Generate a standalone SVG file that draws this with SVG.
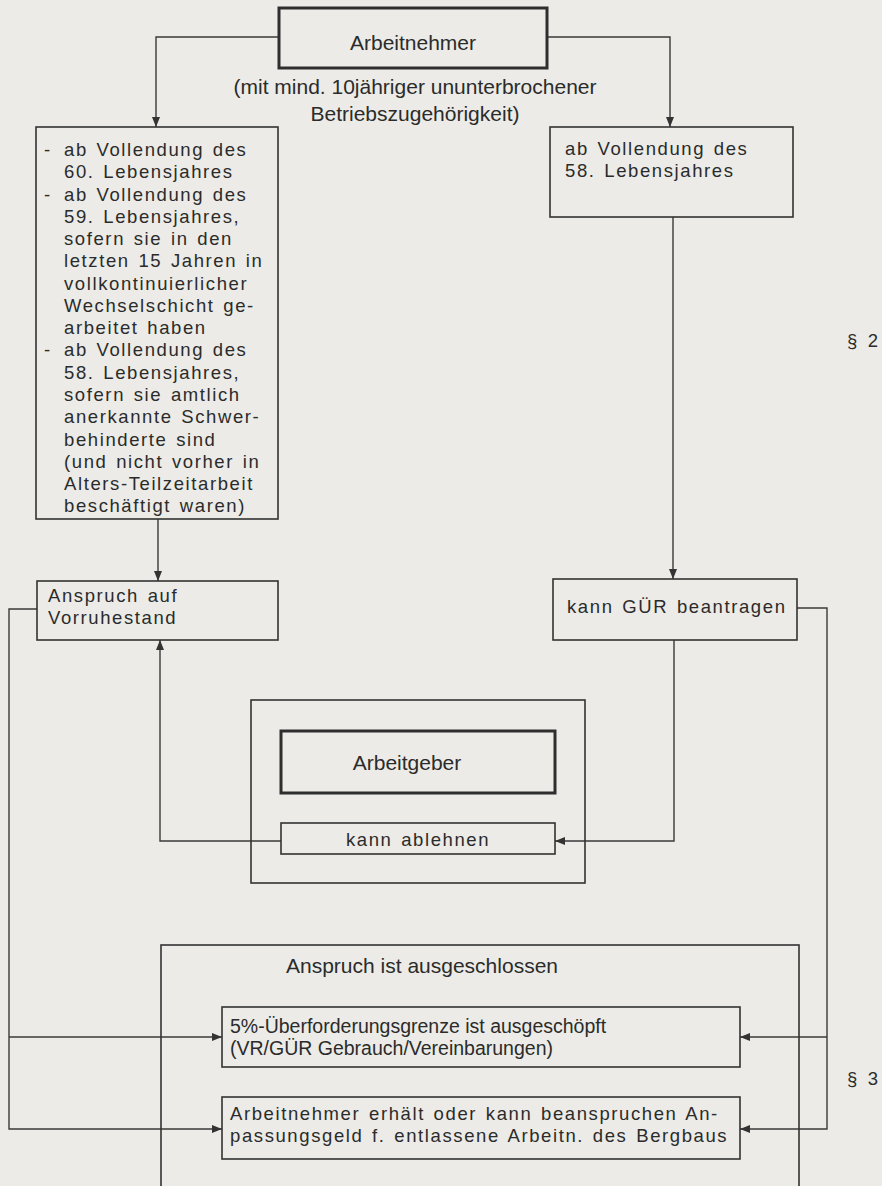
<svg xmlns="http://www.w3.org/2000/svg" width="882" height="1186" viewBox="0 0 882 1186">
  <style>
    .paper { fill: #ecebe7; }
    .box { fill: none; stroke: #333; stroke-width: 1.6; }
    .heavy { fill: none; stroke: #2e2e2e; stroke-width: 3; }
    .wire { fill: none; stroke: #3a3a3a; stroke-width: 1.4; }
    .head { font-family: "Liberation Sans", Arial, sans-serif; font-size: 21px; fill: #2b2b2b; }
    .body { font-family: "Liberation Sans", Arial, sans-serif; font-size: 18.5px; letter-spacing: 1.6px; word-spacing: 2px; fill: #2b2b2b; }
    .note { font-family: "Liberation Sans", Arial, sans-serif; font-size: 19.5px; fill: #2b2b2b; }
    .mid { text-anchor: middle; }
  </style>
  <defs>
    <marker id="arrow" markerUnits="userSpaceOnUse" markerWidth="10" markerHeight="8" refX="10" refY="4" orient="auto">
      <path d="M0,0 L10,4 L0,8 Z" fill="#333"/>
    </marker>
  </defs>

  <rect class="paper" x="0" y="0" width="882" height="1186"/>

  <!-- connectors -->
  <g id="connectors">
    <path class="wire" d="M279,37 H156 V127" marker-end="url(#arrow)"/>
    <path class="wire" d="M547,37 H670 V127" marker-end="url(#arrow)"/>
    <path class="wire" d="M158,519 V581" marker-end="url(#arrow)"/>
    <path class="wire" d="M673,217 V579" marker-end="url(#arrow)"/>
    <path class="wire" d="M37,609 H9 V1129 H222" marker-end="url(#arrow)"/>
    <path class="wire" d="M9,1037 H222" marker-end="url(#arrow)"/>
    <path class="wire" d="M797,608 H827 V1129 H740" marker-end="url(#arrow)"/>
    <path class="wire" d="M827,1037 H740" marker-end="url(#arrow)"/>
    <path class="wire" d="M674,640 V841 H555" marker-end="url(#arrow)"/>
    <path class="wire" d="M281,841 H160 V640" marker-end="url(#arrow)"/>
  </g>

  <!-- employee -->
  <g id="arbeitnehmer">
    <rect class="heavy" x="279" y="8" width="268" height="60"/>
    <text class="head mid" x="413" y="50">Arbeitnehmer</text>
    <text class="head mid" x="415" y="94">(mit mind. 10jähriger ununterbrochener</text>
    <text class="head mid" x="415" y="121">Betriebszugehörigkeit)</text>
  </g>

  <!-- conditions, left column -->
  <g id="bedingungen-vorruhestand">
    <rect class="box" x="36" y="127" width="242" height="392"/>
    <g class="body">
      <text x="44" y="156">-</text>
      <text x="64" y="156">ab Vollendung des</text>
      <text x="64" y="178.3">60. Lebensjahres</text>
      <text x="44" y="200.5">-</text>
      <text x="64" y="200.5">ab Vollendung des</text>
      <text x="64" y="222.8">59. Lebensjahres,</text>
      <text x="64" y="245.1">sofern sie in den</text>
      <text x="64" y="267.4">letzten 15 Jahren in</text>
      <text x="64" y="289.6">vollkontinuierlicher</text>
      <text x="64" y="311.9">Wechselschicht ge-</text>
      <text x="64" y="334.2">arbeitet haben</text>
      <text x="44" y="356.4">-</text>
      <text x="64" y="356.4">ab Vollendung des</text>
      <text x="64" y="378.7">58. Lebensjahres,</text>
      <text x="64" y="401">sofern sie amtlich</text>
      <text x="64" y="423.3">anerkannte Schwer-</text>
      <text x="64" y="445.5">behinderte sind</text>
      <text x="64" y="467.8">(und nicht vorher in</text>
      <text x="64" y="490.1">Alters-Teilzeitarbeit</text>
      <text x="64" y="512.3">beschäftigt waren)</text>
    </g>
  </g>

  <!-- condition, right column -->
  <g id="bedingung-gur">
    <rect class="box" x="550" y="127" width="243" height="90"/>
    <text class="body" x="565" y="155">ab Vollendung des</text>
    <text class="body" x="565" y="177">58. Lebensjahres</text>
  </g>

  <g id="paragraph-2">
    <text class="body" x="847" y="347">§ 2</text>
  </g>

  <g id="vorruhestand">
    <rect class="box" x="37" y="581" width="241" height="59"/>
    <text class="body" x="48" y="602">Anspruch auf</text>
    <text class="body" x="48" y="624">Vorruhestand</text>
  </g>

  <g id="gur">
    <rect class="box" x="553" y="579" width="244" height="61"/>
    <text class="body" x="567" y="613">kann GÜR beantragen</text>
  </g>

  <!-- employer -->
  <g id="arbeitgeber">
    <rect class="box" x="251" y="700" width="334" height="183"/>
    <rect class="heavy" x="281" y="731" width="274" height="62"/>
    <text class="head mid" x="407" y="770">Arbeitgeber</text>
  </g>

  <g id="ablehnung">
    <rect class="box" x="281" y="823" width="274" height="31"/>
    <text class="body mid" x="418" y="846">kann ablehnen</text>
  </g>

  <!-- exclusion -->
  <g id="ausschluss">
    <rect class="box" x="161" y="945" width="638" height="260"/>
    <text class="head mid" x="422" y="973">Anspruch ist ausgeschlossen</text>
  </g>

  <g id="ueberforderungsgrenze">
    <rect class="box" x="222" y="1007" width="518" height="60"/>
    <text class="note" x="230" y="1033">5%-Überforderungsgrenze ist ausgeschöpft</text>
    <text class="note" x="230" y="1055">(VR/GÜR Gebrauch/Vereinbarungen)</text>
  </g>

  <g id="anpassungsgeld">
    <rect class="box" x="222" y="1097" width="518" height="62"/>
    <text class="body" x="230" y="1120">Arbeitnehmer erhält oder kann beanspruchen An-</text>
    <text class="body" x="230" y="1142">passungsgeld f. entlassene Arbeitn. des Bergbaus</text>
  </g>

  <g id="paragraph-3">
    <text class="body" x="847" y="1085">§ 3</text>
  </g>
</svg>
